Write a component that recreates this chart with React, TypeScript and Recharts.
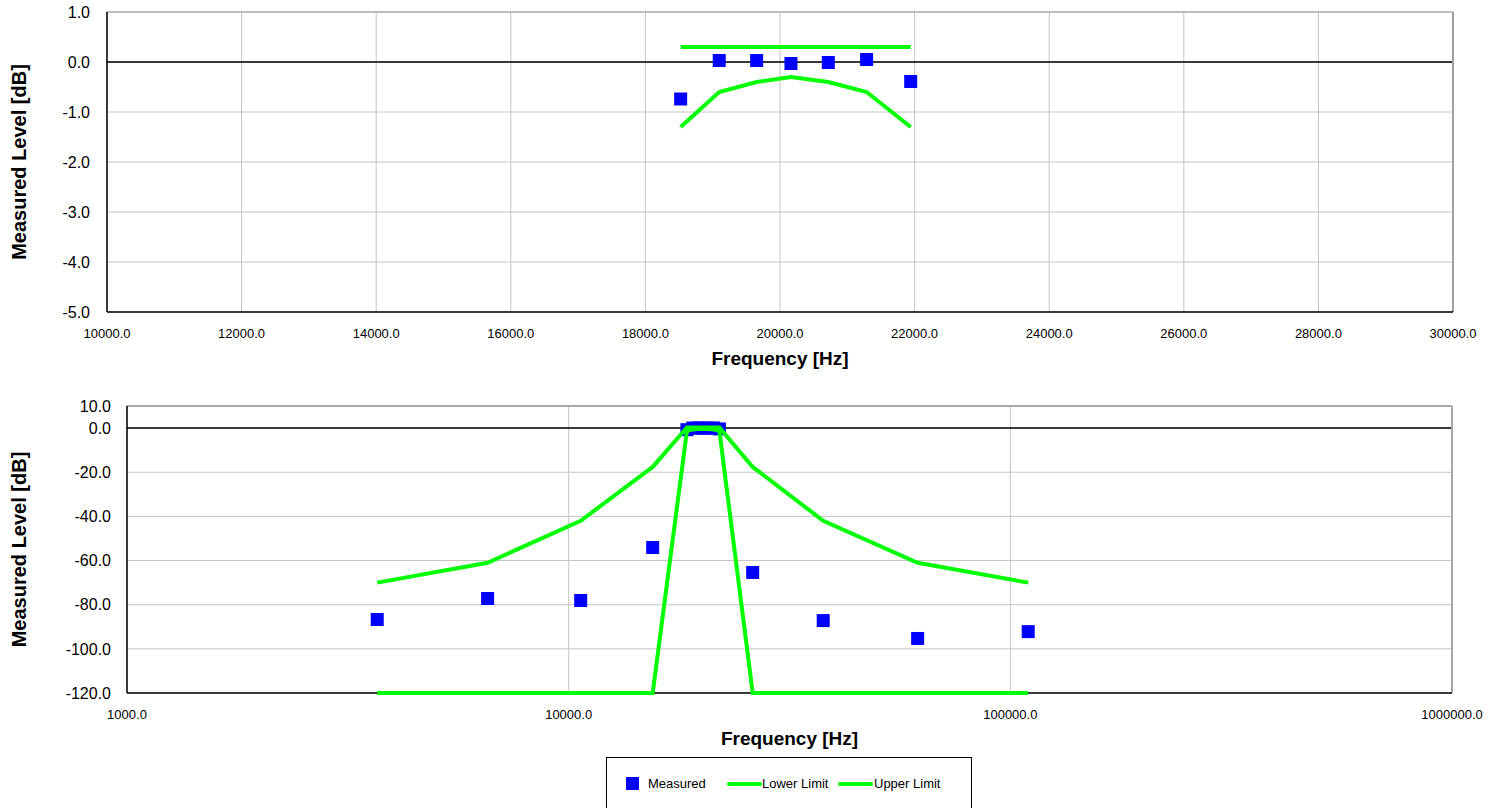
import React from 'react';
import {
  ScatterChart,
  Scatter,
  XAxis,
  YAxis,
  CartesianGrid,
  ReferenceLine,
  Legend,
} from 'recharts';

const FONT = 'Arial, "Liberation Sans", Helvetica, sans-serif';
const GREEN = '#00FF00';
const BLUE = '#0000FF';
const GRID = '#c4c4c4';

// Passband frequencies [Hz] and levels [dB]
const passFreq = [18524, 19097, 19653, 20163, 20718, 21287, 21942];
const passMeasured = [-0.74, 0.03, 0.03, -0.03, -0.01, 0.05, -0.39];
const passLower = [-1.3, -0.6, -0.4, -0.3, -0.4, -0.6, -1.3];
const passUpper = [0.3, 0.3, 0.3, 0.3, 0.3, 0.3, 0.3];

// Stopband frequencies [Hz] and levels [dB]
const lowStopFreq = [3686, 6554, 10647, 15497];
const highStopFreq = [26100, 37700, 61680, 109770];
const lowStopMeasured = [-86.7, -77.2, -78.1, -54.1];
const highStopMeasured = [-65.4, -87.2, -95.3, -92.2];
const lowStopUpper = [-70, -61, -42, -17.6];
const highStopUpper = [-17.6, -42, -61, -70];
const stopFloor = -120;

// Axis ticks
const linTicksX = [10000, 12000, 14000, 16000, 18000, 20000, 22000, 24000, 26000, 28000, 30000];
const linTicksY = [1, 0, -1, -2, -3, -4, -5];
const logTicksX = [1000, 10000, 100000, 1000000];
const logTicksY = [10, 0, -20, -40, -60, -80, -100, -120];

type Pt = { x: number; y: number };
const pts = (xs: number[], ys: number[]): Pt[] => xs.map((x, i) => ({ x, y: ys[i] }));

const passMeasuredPts = pts(passFreq, passMeasured);
const passLowerPts = pts(passFreq, passLower);
const passUpperPts = pts(passFreq, passUpper);

const fullMeasuredPts = [
  ...pts(lowStopFreq, lowStopMeasured),
  ...passMeasuredPts,
  ...pts(highStopFreq, highStopMeasured),
];
const fullLowerPts = [
  ...lowStopFreq.map((x) => ({ x, y: stopFloor })),
  ...passLowerPts,
  ...highStopFreq.map((x) => ({ x, y: stopFloor })),
];
const fullUpperPts = [
  ...pts(lowStopFreq, lowStopUpper),
  { x: passFreq[0], y: passUpper[0] },
  { x: passFreq[passFreq.length - 1], y: passUpper[passUpper.length - 1] },
  ...pts(highStopFreq, highStopUpper),
];

const fmt = (v: number) => v.toFixed(1);

const Square = (props: any) => {
  const { cx, cy } = props;
  if (cx == null || cy == null) return <g />;
  return <rect x={cx - 6.5} y={cy - 6.5} width={13} height={13} fill={BLUE} />;
};
const NoMarker = () => <g />;

const XTitle = (dy: number) => (props: any) => {
  const vb = props.viewBox || {};
  return (
    <text
      x={vb.x + vb.width / 2}
      y={vb.y + dy}
      textAnchor="middle"
      fontFamily={FONT}
      fontWeight="bold"
      fontSize={19}
      fill="#000"
    >
      Frequency [Hz]
    </text>
  );
};

const YTitle = (props: any) => {
  const vb = props.viewBox || {};
  const x = 26;
  const y = vb.y + vb.height / 2;
  return (
    <text
      x={x}
      y={y}
      transform={`rotate(-90 ${x} ${y})`}
      textAnchor="middle"
      fontFamily={FONT}
      fontWeight="bold"
      fontSize={20}
      fill="#000"
    >
      Measured Level [dB]
    </text>
  );
};

const LegendBox = () => {
  const text: React.CSSProperties = {
    position: 'absolute',
    top: 18,
    fontFamily: FONT,
    fontSize: 13,
    lineHeight: '16px',
    color: '#000',
    whiteSpace: 'nowrap',
  };
  const line = (left: number): React.CSSProperties => ({
    position: 'absolute',
    left,
    top: 24,
    width: 35,
    height: 4,
    background: GREEN,
    borderRadius: 2,
  });
  return (
    <div
      style={{
        position: 'relative',
        width: 366,
        height: 56,
        boxSizing: 'border-box',
        border: '1px solid #000',
        background: '#fff',
      }}
    >
      <div style={{ position: 'absolute', left: 19, top: 19, width: 13, height: 13, background: BLUE }} />
      <span style={{ ...text, left: 41 }}>Measured</span>
      <div style={line(120)} />
      <span style={{ ...text, left: 155 }}>Lower Limit</span>
      <div style={line(231)} />
      <span style={{ ...text, left: 267 }}>Upper Limit</span>
    </div>
  );
};

const yTick = { fontFamily: FONT, fontSize: 16, fill: '#000' };
const xTick = { fontFamily: FONT, fontSize: 13, fill: '#000' };
const axisLine = { stroke: '#000', strokeWidth: 1.5 };

export default function App() {
  return (
    <div style={{ position: 'absolute', left: 0, top: 0, width: 1497, height: 808, background: '#fff', overflow: 'hidden' }}>
      {/* Passband detail, linear frequency axis */}
      <div style={{ position: 'absolute', left: 0, top: 0 }}>
        <ScatterChart width={1497} height={390} margin={{ top: 12, right: 44, bottom: 0, left: 0 }}>
          <CartesianGrid stroke={GRID} strokeWidth={1} />
          <XAxis
            type="number"
            dataKey="x"
            domain={[10000, 30000]}
            ticks={linTicksX}
            interval={0}
            tickFormatter={fmt}
            tick={xTick}
            tickLine={false}
            tickSize={0}
            tickMargin={17}
            axisLine={axisLine}
            height={78}
            label={{ content: XTitle(53) } as any}
          />
          <YAxis
            type="number"
            dataKey="y"
            domain={[-5, 1]}
            ticks={linTicksY}
            interval={0}
            tickFormatter={fmt}
            tick={yTick}
            tickLine={false}
            tickSize={0}
            tickMargin={17}
            axisLine={axisLine}
            width={107}
            label={{ content: YTitle } as any}
          />
          <ReferenceLine y={0} stroke="#000" strokeWidth={1.5} />
          <ReferenceLine y={1} stroke="#b0b0b0" strokeWidth={1.5} />
          <ReferenceLine x={30000} stroke="#a0a0a0" strokeWidth={2} />
          <Scatter name="Measured" data={passMeasuredPts} shape={Square} isAnimationActive={false} />
          <Scatter
            name="Lower Limit"
            data={passLowerPts}
            shape={NoMarker}
            line={{ stroke: GREEN, strokeWidth: 4 }}
            isAnimationActive={false}
          />
          <Scatter
            name="Upper Limit"
            data={passUpperPts}
            shape={NoMarker}
            line={{ stroke: GREEN, strokeWidth: 4 }}
            isAnimationActive={false}
          />
        </ScatterChart>
      </div>

      {/* Full response, logarithmic frequency axis */}
      <div style={{ position: 'absolute', left: 0, top: 390 }}>
        <ScatterChart width={1497} height={418} margin={{ top: 16, right: 45, bottom: 0, left: 0 }}>
          <CartesianGrid stroke={GRID} strokeWidth={1} />
          <XAxis
            type="number"
            dataKey="x"
            scale="log"
            domain={[1000, 1000000]}
            ticks={logTicksX}
            interval={0}
            allowDataOverflow
            tickFormatter={fmt}
            tick={xTick}
            tickLine={false}
            tickSize={0}
            tickMargin={17}
            axisLine={axisLine}
            height={115}
            label={{ content: XTitle(52) } as any}
          />
          <YAxis
            type="number"
            dataKey="y"
            domain={[-120, 10]}
            ticks={logTicksY}
            interval={0}
            tickFormatter={fmt}
            tick={yTick}
            tickLine={false}
            tickSize={0}
            tickMargin={16}
            axisLine={axisLine}
            width={127}
            label={{ content: YTitle } as any}
          />
          <ReferenceLine y={0} stroke="#000" strokeWidth={1.5} />
          <ReferenceLine y={10} stroke="#a8a8a8" strokeWidth={2} />
          <ReferenceLine x={1000000} stroke="#a8a8a8" strokeWidth={2} />
          <Scatter name="Measured" data={fullMeasuredPts} shape={Square} isAnimationActive={false} />
          <Scatter
            name="Lower Limit"
            data={fullLowerPts}
            shape={NoMarker}
            line={{ stroke: GREEN, strokeWidth: 4 }}
            isAnimationActive={false}
          />
          <Scatter
            name="Upper Limit"
            data={fullUpperPts}
            shape={NoMarker}
            line={{ stroke: GREEN, strokeWidth: 4 }}
            isAnimationActive={false}
          />
          <Legend
            layout="horizontal"
            verticalAlign="middle"
            align="center"
            wrapperStyle={{ left: 606, top: 367, width: 366, height: 56 }}
            content={() => <LegendBox />}
          />
        </ScatterChart>
      </div>
    </div>
  );
}
